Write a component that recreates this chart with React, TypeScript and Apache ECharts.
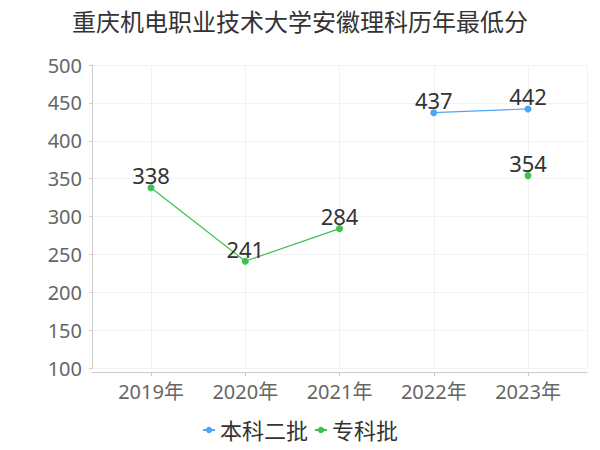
import React, { useEffect, useRef } from "react";
import * as echarts from "echarts";

const titleText = "重庆机电职业技术大学安徽理科历年最低分";
const categories = ["2019年", "2020年", "2021年", "2022年", "2023年"];
const seriesNames = ["本科二批", "专科批"];
const benke2: (number | null)[] = [null, null, null, 437, 442];
const zhuanke: (number | null)[] = [338, 241, 284, null, 354];
const colors = ["#4ba6f5", "#3fbf50"];
const yMin = 100;
const yMax = 500;
const yInterval = 50;

export default function App() {
  const ref = useRef<HTMLDivElement>(null);
  useEffect(() => {
    if (!ref.current) return;
    const chart = echarts.init(ref.current, undefined, { renderer: "svg" });
    const gridLine = "#f2f2f2";
    const axisColor = "#cccccc";
    chart.setOption({
      animation: false,
      textStyle: { fontFamily: "'Noto Sans', 'Noto Sans CJK SC', sans-serif" },
      title: {
        text: titleText,
        left: "center",
        top: 4,
        textStyle: { fontSize: 24, fontWeight: "normal", color: "#333" },
      },
      legend: {
        bottom: 4,
        left: "center",
        itemWidth: 12,
        itemHeight: 8,
        itemGap: 6,
        textStyle: { fontSize: 22, color: "#333" },
        data: seriesNames,
      },
      grid: [
        { left: 92, right: 13, top: 65, bottom: 82 },
        { left: 151, right: 72, top: 65, bottom: 82 },
      ],
      xAxis: [
        {
          gridIndex: 0,
          type: "value",
          min: 0,
          max: 1,
          interval: 1,
          offset: 4,
          axisLine: { show: true, lineStyle: { color: axisColor } },
          axisTick: { show: false },
          axisLabel: { show: false },
          splitLine: { show: true, lineStyle: { color: gridLine } },
        },
        {
          gridIndex: 1,
          type: "category",
          boundaryGap: false,
          data: categories,
          offset: 4,
          axisLine: { show: false },
          axisTick: { show: true, length: 4, lineStyle: { color: axisColor } },
          axisLabel: { fontSize: 20, color: "#666", margin: 9 },
          splitLine: { show: true, lineStyle: { color: gridLine } },
        },
      ],
      yAxis: [
        {
          gridIndex: 0,
          type: "value",
          min: yMin,
          max: yMax,
          interval: yInterval,
          offset: 4,
          axisLine: { show: true, lineStyle: { color: axisColor } },
          axisTick: { show: true, length: 3, lineStyle: { color: axisColor } },
          axisLabel: { fontSize: 20, color: "#666", margin: 6 },
          splitLine: { show: true, lineStyle: { color: gridLine } },
        },
        {
          gridIndex: 1,
          type: "value",
          min: yMin,
          max: yMax,
          interval: yInterval,
          show: false,
          splitLine: { show: false },
        },
      ],
      series: [
        {
          name: seriesNames[0],
          type: "line",
          xAxisIndex: 1,
          yAxisIndex: 1,
          data: benke2,
          color: colors[0],
          symbol: "circle",
          symbolSize: 7,
          lineStyle: { width: 1.2 },
          label: { show: true, position: "top", distance: -2, fontSize: 22, color: "#333" },
        },
        {
          name: seriesNames[1],
          type: "line",
          xAxisIndex: 1,
          yAxisIndex: 1,
          data: zhuanke,
          color: colors[1],
          symbol: "circle",
          symbolSize: 7,
          lineStyle: { width: 1.2 },
          label: { show: true, position: "top", distance: -2, fontSize: 22, color: "#333" },
        },
      ],
    });
    return () => chart.dispose();
  }, []);
  return (
    <div
      ref={ref}
      style={{ position: "absolute", left: 0, top: 0, width: 600, height: 450 }}
    />
  );
}
